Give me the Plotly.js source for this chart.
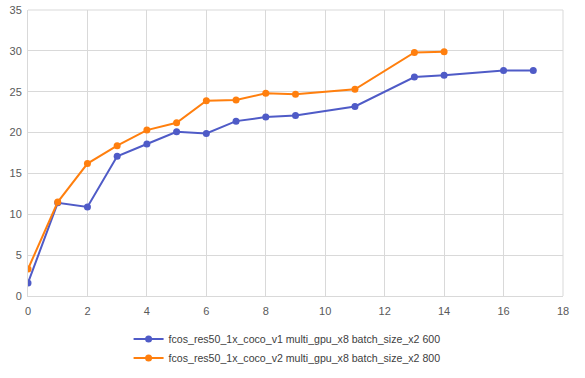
<!DOCTYPE html>
<html>
<head>
<meta charset="utf-8">
<script src="https://cdn.plot.ly/plotly-3.0.1.min.js"></script>
<style>html,body{margin:0;padding:0;background:#fff;}#chart{width:585px;height:378px;}</style>
</head>
<body>
<div id="chart"></div>
<script>
const xV1 = [0, 1, 2, 3, 4, 5, 6, 7, 8, 9, 11, 13, 14, 16, 17];
const yV1 = [1.6, 11.4, 10.9, 17.1, 18.6, 20.1, 19.9, 21.4, 21.9, 22.1, 23.2, 26.8, 27.0, 27.6, 27.6];
const xV2 = [0, 1, 2, 3, 4, 5, 6, 7, 8, 9, 11, 13, 14];
const yV2 = [3.3, 11.5, 16.2, 18.4, 20.3, 21.2, 23.9, 24.0, 24.8, 24.7, 25.3, 29.8, 29.9];
const names = [
  "fcos_res50_1x_coco_v1 multi_gpu_x8 batch_size_x2 600",
  "fcos_res50_1x_coco_v2 multi_gpu_x8 batch_size_x2 800"
];
const colors = ["#4f5bc7", "#ff7f0e"];

const traces = [
  {x: xV1, y: yV1, name: names[0], type: "scatter", mode: "lines+markers",
   line: {color: colors[0], width: 2}, marker: {color: colors[0], size: 7}},
  {x: xV2, y: yV2, name: names[1], type: "scatter", mode: "lines+markers",
   line: {color: colors[1], width: 2}, marker: {color: colors[1], size: 7}}
];

const layout = {
  width: 585, height: 378,
  margin: {l: 28, r: 22, t: 10, b: 82, autoexpand: false},
  paper_bgcolor: "#fff", plot_bgcolor: "#fff",
  font: {family: "Liberation Sans, Arial, sans-serif", size: 11, color: "#595959"},
  showlegend: true,
  legend: {orientation: "v", x: 0.188, xanchor: "left", y: -0.1, yanchor: "top",
           font: {size: 10.6, color: "#404040"}, tracegroupgap: 0, itemwidth: 30},
  xaxis: {range: [0, 18], dtick: 2, tick0: 0, showgrid: true, gridcolor: "#d9d9d9",
          zeroline: false, showline: true, linecolor: "#d9d9d9",
          ticks: "outside", ticklen: 5, tickcolor: "rgba(0,0,0,0)",
          fixedrange: true, automargin: false},
  yaxis: {range: [0, 35], dtick: 5, tick0: 0, showgrid: true, gridcolor: "#d9d9d9",
          zeroline: false, showline: true, linecolor: "#d9d9d9",
          ticks: "outside", ticklen: 3, tickcolor: "rgba(0,0,0,0)",
          fixedrange: true, automargin: false},
  shapes: [
    {type: "line", xref: "paper", yref: "paper", x0: 1, x1: 1, y0: 0, y1: 1,
     line: {color: "#d9d9d9", width: 1}},
    {type: "line", xref: "paper", yref: "paper", x0: 0, x1: 1, y0: 1, y1: 1,
     line: {color: "#d9d9d9", width: 1}}
  ]
};

Plotly.newPlot("chart", traces, layout, {displayModeBar: false, staticPlot: true});
</script>
</body>
</html>
